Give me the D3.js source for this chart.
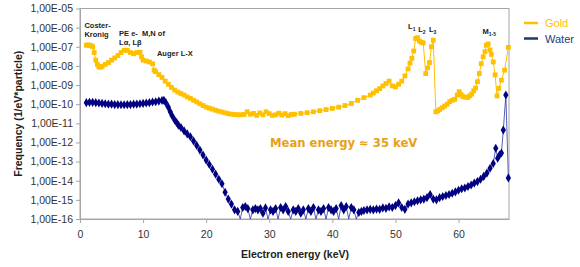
<!DOCTYPE html>
<html>
<head>
<meta charset="utf-8">
<script src="https://cdn.jsdelivr.net/npm/d3@7"></script>
<style>
  body { margin: 0; background: #fff; }
  svg { display: block; font-family: "Liberation Sans", Arial, sans-serif; }
</style>
</head>
<body>
<div id="chart"></div>
<script>
// Gold spectrum (keV, 1/eV*particle)
const GOLD_E = [1.0, 1.25, 1.5, 1.75, 2.0, 2.25, 2.5, 2.75, 3.0, 3.25, 3.5, 4.0, 4.5, 5.0, 5.5, 6.0, 6.5, 7.0, 7.5, 8.0,
    8.5, 9.0, 9.5, 9.75, 10.0, 10.5, 11.0, 11.5, 11.75, 12.0, 12.5, 13.0, 13.5, 14.0, 14.5, 15.0, 15.5, 16.0, 16.5, 17.0,
    17.5, 18.0, 18.5, 19.0, 19.5, 20.0, 20.5, 21.0, 21.5, 22.0, 22.5, 23.0, 23.5, 24.0, 24.5, 25.0, 25.5, 26.0, 26.5, 27.0,
    27.5, 28.0, 28.5, 29.0, 29.5, 30.0, 30.5, 31.0, 31.5, 32.0, 32.5, 33.0, 33.5, 34, 35, 36, 37, 38, 39, 40,
    41, 42, 43, 44, 45, 46, 46.5, 47, 47.5, 48, 48.5, 49, 49.5, 50, 50.5, 51, 51.5, 52, 52.3, 52.6,
    52.9, 53.2, 53.5, 53.8, 54.1, 54.4, 54.8, 55.1, 55.4, 55.7, 56.0, 56.4, 56.7, 57.0, 57.4, 57.8, 58.2, 58.6, 59.0, 59.4,
    59.8, 60.1, 60.4, 60.7, 61.1, 61.5, 61.8, 62.1, 62.4, 62.7, 63.0, 63.3, 63.6, 63.9, 64.2, 64.4, 64.7, 65.0, 65.2, 65.5,
    65.8, 66.1, 66.4, 66.8, 67.3, 67.9];
const GOLD_F = [1.2e-7, 1.25e-7, 1.2e-7, 1.15e-7, 1.0e-7, 5e-8, 2e-8, 1.2e-8, 9e-9, 8.5e-9, 9.5e-9, 1.2e-8, 1.5e-8, 2e-8, 2.6e-8, 3.5e-8, 5e-8, 6.5e-8, 6.5e-8, 5e-8,
    4.3e-8, 5e-8, 5.2e-8, 3e-8, 2e-8, 1.8e-8, 1.6e-8, 1.3e-8, 6e-9, 5e-9, 3.5e-9, 2.5e-9, 1.6e-9, 1.1e-9, 7.5e-10, 5.5e-10, 4.3e-10, 3.6e-10, 3e-10, 2.4e-10,
    2e-10, 1.6e-10, 1.3e-10, 1.05e-10, 8.5e-11, 7e-11, 6.2e-11, 5.5e-11, 4.8e-11, 4.3e-11, 3.9e-11, 3.5e-11, 3.2e-11, 3e-11, 2.9e-11, 2.8e-11, 2.8e-11, 2.9e-11, 4e-11, 3e-11,
    3.3e-11, 2.6e-11, 3.5e-11, 2.8e-11, 4e-11, 3.2e-11, 2.6e-11, 2.8e-11, 3.4e-11, 2.7e-11, 3.2e-11, 2.5e-11, 2.9e-11, 3e-11, 3.3e-11, 3.6e-11, 4e-11, 4.6e-11, 5.2e-11, 6e-11,
    7e-11, 8.5e-11, 1.1e-10, 1.6e-10, 2.2e-10, 3e-10, 3.8e-10, 5e-10, 6.5e-10, 9e-10, 1.2e-9, 1.6e-9, 9e-10, 8e-10, 1.1e-9, 1.6e-9, 3e-9, 7e-9, 1.4e-8, 2.5e-8,
    6e-8, 2.7e-7, 3e-7, 2e-7, 1.7e-7, 1.6e-7, 4e-9, 8e-9, 1.5e-8, 1e-7, 2.2e-7, 4e-11, 4.5e-11, 5.3e-11, 6.5e-11, 8e-11, 1e-10, 1.35e-10, 1.6e-10, 1.8e-10,
    3e-10, 4.5e-10, 3.2e-10, 2.5e-10, 2.3e-10, 2.3e-10, 2.8e-10, 3.4e-10, 5e-10, 7e-10, 1.5e-9, 4e-9, 1.3e-8, 3e-8, 5.5e-8, 1.2e-7, 1.4e-7, 6.8e-8, 4e-8, 1.6e-8,
    3.4e-9, 2.7e-10, 6.8e-10, 1.8e-9, 6e-9, 9.3e-8];

// Water spectrum (0 = empty bin, drawn down to the axis)
const WATER_E = [1.0, 1.5, 2, 2.5, 3, 3.5, 4, 4.5, 5, 5.5, 6, 6.5, 7, 7.5, 8, 8.5, 9, 9.5, 10, 10.5,
    11, 11.5, 12, 12.5, 13, 13.3, 13.6, 14.0, 14.3, 14.6, 15.0, 15.3, 15.6, 16, 16.5, 17, 17.5, 18, 18.5, 19,
    19.5, 20, 20.5, 21, 21.5, 22, 22.5, 23, 23.5, 24, 24.5, 25.0, 25.4, 25.8, 26.2, 26.6, 27.0, 27.4, 27.8, 28.2,
    28.6, 29.0, 29.4, 29.8, 30.2, 30.6, 31.0, 31.4, 31.8, 32.2, 32.6, 33.0, 33.4, 33.8, 34.2, 34.6, 35.0, 35.4, 35.8, 36.2,
    36.6, 37.0, 37.4, 37.8, 38.2, 38.6, 39.0, 39.4, 39.8, 40.2, 40.6, 41.0, 41.4, 41.8, 42.2, 42.6, 43.0, 43.4, 43.8, 44.2,
    44.6, 45.0, 45.5, 46.0, 46.5, 47.0, 47.5, 48.0, 48.5, 49.0, 49.5, 50.0, 50.5, 51.0, 51.5, 52.0, 52.5, 53.0, 53.5, 54.0,
    54.5, 55.0, 55.5, 56.0, 56.5, 57.0, 57.5, 58.0, 58.5, 59.0, 59.5, 60.0, 60.5, 61.0, 61.5, 62.0, 62.5, 63.0, 63.5, 64.0,
    64.5, 65.0, 65.5, 65.9, 66.2, 66.5, 66.8, 67.1, 67.5, 67.9];
const WATER_F = [1.2e-10, 1.25e-10, 1.25e-10, 1.2e-10, 1.15e-10, 1.1e-10, 1.05e-10, 1.0e-10, 1.0e-10, 9.5e-11, 9.5e-11, 9.3e-11, 9.3e-11, 9.5e-11, 9.5e-11, 1.0e-10, 1.0e-10, 1.05e-10, 1.1e-10, 1.15e-10,
    1.2e-10, 1.3e-10, 1.35e-10, 1.45e-10, 1.55e-10, 1.6e-10, 1.2e-10, 7e-11, 4e-11, 2.5e-11, 1.5e-11, 1.1e-11, 8e-12, 6e-12, 4e-12, 2.8e-12, 2e-12, 1.2e-12, 7e-13, 4e-13,
    2.2e-13, 1.2e-13, 7e-14, 4e-14, 2.2e-14, 1.2e-14, 7e-15, 2.5e-15, 1.1e-15, 6e-16, 3e-16, 2.5e-16, 0, 4e-16, 4.5e-16, 3.5e-16, 0, 3e-16, 3.5e-16, 3e-16,
    3.5e-16, 2e-16, 3.8e-16, 0, 3e-16, 2.5e-16, 3.5e-16, 0, 4e-16, 3e-16, 4.5e-16, 2.5e-16, 0, 3e-16, 2.5e-16, 3.5e-16, 2e-16, 3e-16, 0, 3.5e-16,
    2.5e-16, 4e-16, 0, 3e-16, 2.5e-16, 3.5e-16, 0, 4e-16, 3e-16, 2.5e-16, 3.5e-16, 0, 5e-16, 3e-16, 4.5e-16, 0, 4e-16, 3e-16, 0, 2.2e-16,
    2.5e-16, 2.8e-16, 3e-16, 3.2e-16, 3e-16, 3.3e-16, 3.2e-16, 3.8e-16, 3.6e-16, 4.3e-16, 4e-16, 5e-16, 7e-16, 4e-16, 3.2e-16, 6e-16, 7e-16, 8e-16, 9e-16, 1e-15,
    1.1e-15, 1.3e-15, 1.9e-15, 1.1e-15, 1e-15, 1.3e-15, 1.5e-15, 1.7e-15, 1.9e-15, 2.2e-15, 2.6e-15, 3.2e-15, 3.8e-15, 4.2e-15, 5e-15, 6e-15, 7.5e-15, 9e-15, 1.2e-14, 1.7e-14,
    2.5e-14, 4.5e-14, 8e-14, 5e-13, 1.5e-13, 2.2e-13, 2.8e-13, 4.5e-12, 3e-10, 1.4e-14];

const X_TICKS = [0, 10, 20, 30, 40, 50, 60];
const Y_TICKS = [1e-16, 1e-15, 1e-14, 1e-13, 1e-12, 1e-11, 1e-10, 1e-9, 1e-8, 1e-7, 1e-6, 1e-5];

const ANNOTATIONS = [
    { e: 0.7, f: 9.5e-7, lines: ["Coster-", "Kronig"] },
    { e: 6.2, f: 3.6e-7, lines: ["PE e-  M,N of", "L\u03b1, L\u03b2"] },
    { e: 12.2, f: 3.3e-8, lines: ["Auger L-X"] }
];
const SHELLS = [
    { e: 52.0, f: 8.0e-7, name: "L", sub: "1" },
    { e: 53.6, f: 6.2e-7, name: "L", sub: "2" },
    { e: 55.3, f: 6.2e-7, name: "L", sub: "3" },
    { e: 63.8, f: 4.6e-7, name: "M", sub: "1-5" }
];

const GOLD = "#FFC000";
const WATER = "#000080";

const W = 580, H = 267;
const PLOT = { left: 80, right: 509, top: 8.5, bottom: 219 };

const svg = d3.select("#chart").append("svg")
    .attr("width", W)
    .attr("height", H);

const x = d3.scaleLinear().domain([0, 68]).range([PLOT.left, PLOT.right]);
const y = d3.scaleLog().domain([1e-16, 1e-5]).range([PLOT.bottom, PLOT.top]);

function sciLabel(d) {
    const exp = Math.round(Math.log10(d));
    const s = String(Math.abs(exp)).padStart(2, "0");
    return "1,00E" + (exp < 0 ? "-" : "+") + s;
}

// frame
svg.append("rect")
    .attr("x", PLOT.left).attr("y", PLOT.top)
    .attr("width", PLOT.right - PLOT.left)
    .attr("height", PLOT.bottom - PLOT.top)
    .attr("fill", "none")
    .attr("stroke", "#a6a6a6")
    .attr("stroke-width", 1);

const yAxis = svg.append("g")
    .attr("transform", "translate(" + PLOT.left + ",0)")
    .call(d3.axisLeft(y).tickValues(Y_TICKS).tickFormat(sciLabel).tickSize(4).tickSizeOuter(0).tickPadding(3));

const xAxis = svg.append("g")
    .attr("transform", "translate(0," + PLOT.bottom + ")")
    .call(d3.axisBottom(x).tickValues(X_TICKS).tickSize(4).tickSizeOuter(0).tickPadding(8));

[yAxis, xAxis].forEach(g => {
    g.select(".domain").attr("stroke", "#a6a6a6");
    g.selectAll(".tick line").attr("stroke", "#a6a6a6");
    g.selectAll(".tick text")
        .attr("fill", "#333")
        .style("font-size", "10.5px")
        .style("font-family", "'Liberation Sans', Arial, sans-serif");
});

// axis titles
svg.append("text")
    .attr("transform", "translate(18," + ((PLOT.top + PLOT.bottom) / 2) + ") rotate(-90)")
    .attr("text-anchor", "middle")
    .attr("dominant-baseline", "central")
    .style("font-size", "10.5px")
    .style("font-weight", "bold")
    .attr("fill", "#222")
    .text("Frequency (1/eV*particle)");

svg.append("text")
    .attr("x", 295)
    .attr("y", 258)
    .attr("text-anchor", "middle")
    .style("font-size", "10.5px")
    .style("font-weight", "bold")
    .attr("fill", "#222")
    .text("Electron energy (keV)");

svg.append("clipPath").attr("id", "clip")
    .append("rect")
    .attr("x", PLOT.left).attr("y", PLOT.top - 3)
    .attr("width", PLOT.right - PLOT.left + 3)
    .attr("height", PLOT.bottom - PLOT.top + 3);

const goldData = GOLD_E.map((e, i) => ({ e: e, f: GOLD_F[i] }));
const waterData = WATER_E.map((e, i) => ({ e: e, f: WATER_F[i] }));

const yVal = d => d.f > 0 ? y(d.f) : y(1e-16);
const line = d3.line().x(d => x(d.e)).y(yVal);

const plot = svg.append("g").attr("clip-path", "url(#clip)");

// water
plot.append("path")
    .datum(waterData)
    .attr("d", line)
    .attr("fill", "none")
    .attr("stroke", "#2b35a0")
    .attr("stroke-width", 0.8);

plot.append("g")
    .selectAll("path")
    .data(waterData.filter(d => d.f > 0))
    .enter()
    .append("path")
    .attr("d", d3.symbol().type(d3.symbolDiamond).size(24))
    .attr("transform", d => "translate(" + x(d.e) + "," + y(d.f) + ")")
    .attr("fill", WATER);

// gold
plot.append("path")
    .datum(goldData)
    .attr("d", line)
    .attr("fill", "none")
    .attr("stroke", GOLD)
    .attr("stroke-width", 1);

plot.append("g")
    .selectAll("rect")
    .data(goldData)
    .enter()
    .append("rect")
    .attr("x", d => x(d.e) - 2.4)
    .attr("y", d => y(d.f) - 2.4)
    .attr("width", 4.8)
    .attr("height", 4.8)
    .attr("fill", GOLD);

// annotations
ANNOTATIONS.forEach(a => {
    const t = svg.append("text")
        .attr("x", x(a.e))
        .attr("y", y(a.f))
        .style("font-size", "7.5px")
        .style("font-weight", "bold")
        .attr("fill", "#222");
    a.lines.forEach((l, i) => {
        t.append("tspan")
            .attr("x", x(a.e))
            .attr("dy", i === 0 ? 0 : 9)
            .style("white-space", "pre")
            .text(l);
    });
});

SHELLS.forEach(s => {
    const t = svg.append("text")
        .attr("x", x(s.e))
        .attr("y", y(s.f))
        .style("font-size", "7.5px")
        .style("font-weight", "bold")
        .attr("fill", "#222");
    t.append("tspan").text(s.name);
    t.append("tspan").attr("dy", 2).style("font-size", "5px").text(s.sub);
});

svg.append("text")
    .attr("x", 270)
    .attr("y", 147)
    .style("font-family", "'DejaVu Sans', Verdana, sans-serif")
    .style("font-size", "11.6px")
    .style("font-weight", "bold")
    .attr("fill", "#E6A118")
    .text("Mean energy \u2248 35 keV");

// legend
const legend = [
    { name: "Gold", color: GOLD, text: GOLD },
    { name: "Water", color: "#1F3A6E", text: "#1F3A6E" }
];
legend.forEach((l, i) => {
    const ly = 23 + i * 15.5;
    svg.append("line")
        .attr("x1", 524).attr("x2", 538)
        .attr("y1", ly).attr("y2", ly)
        .attr("stroke", l.color)
        .attr("stroke-width", 2.5);
    svg.append("text")
        .attr("x", 545)
        .attr("y", ly)
        .attr("dominant-baseline", "central")
        .style("font-size", "11px")
        .attr("fill", l.text)
        .text(l.name);
});
</script>
</body>
</html>
